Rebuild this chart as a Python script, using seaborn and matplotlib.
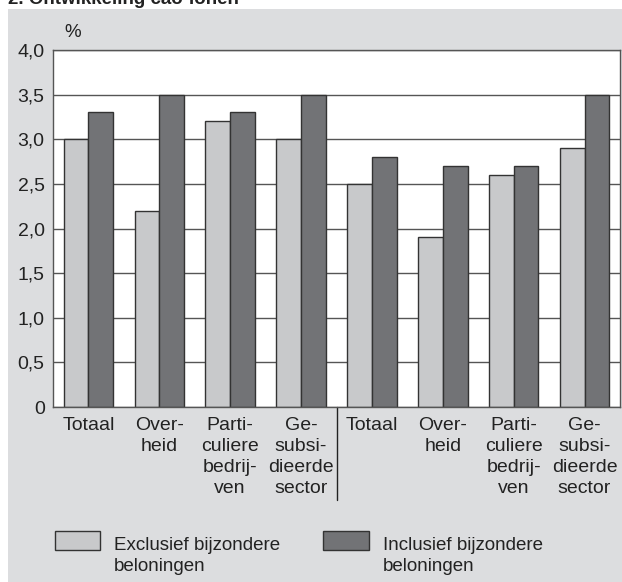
import pandas as pd
import matplotlib.pyplot as plt
import matplotlib.transforms as mtransforms
from matplotlib.patches import Rectangle
import seaborn as sns

# Data
sectors = ['Totaal', 'Over-\nheid', 'Parti-\nculiere\nbedrij-\nven', 'Ge-\nsubsi-\ndieerde\nsector',
           'Totaal', 'Over-\nheid', 'Parti-\nculiere\nbedrij-\nven', 'Ge-\nsubsi-\ndieerde\nsector']
exclusief = [3.0, 2.2, 3.2, 3.0, 2.5, 1.9, 2.6, 2.9]
inclusief = [3.3, 3.5, 3.3, 3.5, 2.8, 2.7, 2.7, 3.5]
series_names = ['Exclusief bijzondere\nbeloningen', 'Inclusief bijzondere\nbeloningen']
y_ticks = [0, 0.5, 1.0, 1.5, 2.0, 2.5, 3.0, 3.5, 4.0]
y_ticklabels = ['0', '0,5', '1,0', '1,5', '2,0', '2,5', '3,0', '3,5', '4,0']
title = '2. Ontwikkeling cao-lonen'

light = '#c8c9cb'
dark = '#727376'
panel = '#dcdddf'
edge = '#333333'
txt = '#222222'

df = pd.DataFrame({
    'pos': list(range(len(sectors))) * 2,
    'waarde': exclusief + inclusief,
    'reeks': [series_names[0]] * len(sectors) + [series_names[1]] * len(sectors),
})

sns.set_style('white')
plt.rcParams['font.family'] = ['Liberation Sans', 'DejaVu Sans']

W, H = 622, 582
fig = plt.figure(figsize=(W / 100, H / 100), dpi=100)
fig.patch.set_facecolor('white')
# gray panel behind the chart
fig.patches.append(Rectangle((8 / W, 0), 1, 1 - 9 / H, transform=fig.transFigure,
                             facecolor=panel, edgecolor='none', zorder=-10))
# title is cut off at the top edge, as in the source
fig.text(8 / W, 1 - 4 / H, title, fontsize=13.5, fontweight='bold', ha='left', va='baseline',
         color=txt)

ax = fig.add_axes([53 / W, 1 - 407 / H, 567 / W, 357 / H])
sns.barplot(data=df, x='pos', y='waarde', hue='reeks', palette=[light, dark],
            edgecolor=edge, linewidth=1, width=0.7, ax=ax, saturation=1, legend=False)

ax.set_facecolor('white')
ax.set_xlim(-0.5, len(sectors) - 0.5)
ax.set_ylim(0, 4.0)
ax.set_yticks(y_ticks, y_ticklabels)
ax.set_xticks(range(len(sectors)), sectors, linespacing=1.32)
ax.tick_params(axis='both', length=0, labelsize=14, colors=txt)
ax.tick_params(axis='x', pad=7)
ax.tick_params(axis='y', pad=6)
ax.set_xlabel('')
ax.set_ylabel('')
ax.set_axisbelow(True)
ax.yaxis.grid(True, color='#555555', linewidth=1)
for sp in ax.spines.values():
    sp.set_color('#555555')
    sp.set_linewidth(1)

ax.text((64 - 53) / 567, 1.025, '%', transform=ax.transAxes, fontsize=13.5,
        ha='left', va='bottom', color=txt)

# separator between the two groups
trans = mtransforms.blended_transform_factory(ax.transData, ax.transAxes)
ax.plot([3.5, 3.5], [0, -93 / 357], transform=trans, color=txt, lw=1, clip_on=False)

# legend: swatches with two-line labels
for (x0, x1, xt), name, col in zip([(55, 100, 114), (323, 369, 383)], series_names, [light, dark]):
    fig.patches.append(Rectangle((x0 / W, 1 - 550 / H), (x1 - x0) / W, 19 / H,
                                 transform=fig.transFigure, facecolor=col,
                                 edgecolor=edge, linewidth=1))
    fig.text(xt / W, 1 - 537 / H, name, fontsize=13.5, ha='left', va='top',
             linespacing=1.3, color=txt)

fig.savefig('out.png', dpi=100, facecolor='white')
